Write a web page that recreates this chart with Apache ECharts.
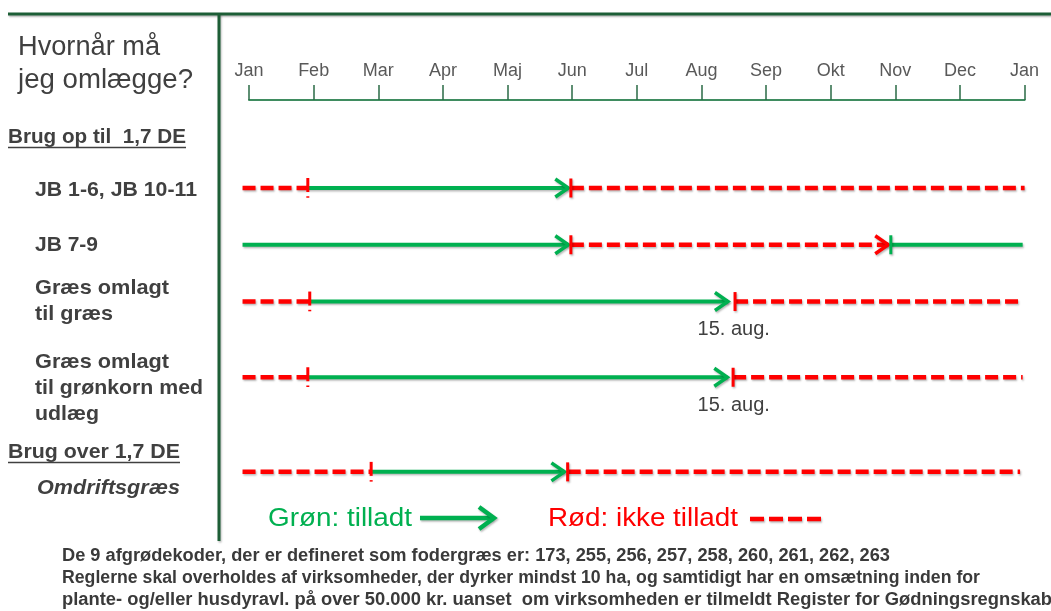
<!DOCTYPE html>
<html><head><meta charset="utf-8">
<script src="https://cdn.jsdelivr.net/npm/echarts@6/dist/echarts.min.js"></script>
<style>html,body{margin:0;padding:0;background:#fff}#c{width:1051px;height:611px}</style>
</head><body><div id="c"></div>
<script>
// ---------- DATA ----------
const months = ['Jan','Feb','Mar','Apr','Maj','Jun','Jul','Aug','Sep','Okt','Nov','Dec','Jan'];
const rowNames = ['JB 1-6, JB 10-11', 'JB 7-9', 'Græs omlagt til græs', 'Græs omlagt til grønkorn med udlæg', 'Omdriftsgræs'];
// segments (month units, 0 = 1 Jan, 12 = 31 Dec)
const segRow     = [0, 0, 0,    1, 1, 1,     2, 2, 2,     3, 3, 3,     4, 4, 4];
const segFrom    = [-0.1, 0.91, 4.98,  -0.1, 4.98, 9.93,  -0.1, 0.94, 7.52,  -0.1, 0.91, 7.49,  -0.1, 1.89, 4.93];
const segTo      = [0.91, 4.94, 12.0,  4.94, 9.89, 11.97,  0.94, 7.41, 11.97,  0.91, 7.40, 11.97,  1.89, 4.88, 11.93];
const segAllowed = [0, 1, 0,    1, 0, 1,     0, 1, 0,     0, 1, 0,     0, 1, 0];
const noteText = ['15. aug.', '15. aug.'];
const noteRow  = [2, 3];
const noteAt   = [7.5, 7.5];
const legendText = ['Grøn: tilladt', 'Rød: ikke tilladt'];
const footText = [
  'De 9 afgrødekoder, der er defineret som fodergræs er: 173, 255, 256, 257, 258, 260, 261, 262, 263',
  'Reglerne skal overholdes af virksomheder, der dyrker mindst 10 ha, og samtidigt har en omsætning inden for',
  'plante- og/eller husdyravl. på over 50.000 kr. uanset  om virksomheden er tilmeldt Register for Gødningsregnskab'
];

// ---------- LAYOUT / STYLE ----------
const GREEN = '#00b050', RED = '#ff0000', FRAME = '#1d5e36', TXT = '#404040';
const FF = '"Liberation Sans", Arial, sans-serif';
const rowSlot = [0, 3, 6, 10, 15];

const data = segFrom.map((f, i) => {
  const r = segRow[i];
  const first = i === 0 || segRow[i - 1] !== r;
  const last = i === segRow.length - 1 || segRow[i + 1] !== r;
  const ok = segAllowed[i];
  const arrow = !last && (ok === 1 || !first) ? 1 : 0;
  let tick = 0;
  if (!first) {
    const prevFirst = (i - 1 === 0 || segRow[i - 2] !== r);
    const prevArrow = segAllowed[i - 1] === 1 || !prevFirst;
    tick = prevArrow ? 1 : 2;
  }
  return [f, segTo[i], rowSlot[r], i, ok, arrow, tick];
});

const shadow = {shadowColor: 'rgba(0,0,0,0.28)', shadowBlur: 2, shadowOffsetX: 1, shadowOffsetY: 1.5};

const measureCtx = document.createElement('canvas').getContext('2d');
function txt(x, y, s, font, color, w) {
  measureCtx.font = font;
  const m = measureCtx.measureText(s).width;
  const sx = w ? w / m : 1;
  return {type: 'text', x: x, y: y, scaleX: sx, originX: 0, z: 10,
    style: {text: s, font: font, fill: color, align: 'left', verticalAlign: 'middle'}};
}

const rowFont = 'bold 21px ' + FF;
const graphics = [
  // frame
  {type: 'line', z: 5, shape: {x1: 8, y1: 14, x2: 1051, y2: 14}, style: Object.assign({stroke: FRAME, lineWidth: 3}, shadow)},
  {type: 'line', z: 5, shape: {x1: 219, y1: 14, x2: 219, y2: 541}, style: Object.assign({stroke: FRAME, lineWidth: 3}, shadow)},
  // title
  txt(18, 48, 'Hvornår må', '27px ' + FF, TXT, 142),
  txt(18, 81, 'jeg omlægge?', '27px ' + FF, TXT, 175),
  // group headers
  txt(8, 137, 'Brug op til  1,7 DE', rowFont, TXT, 178),
  {type: 'line', z: 5, shape: {x1: 8, y1: 147.5, x2: 186, y2: 147.5}, style: {stroke: TXT, lineWidth: 1.6}},
  txt(8, 452, 'Brug over 1,7 DE', rowFont, TXT, 172),
  {type: 'line', z: 5, shape: {x1: 8, y1: 462.5, x2: 180, y2: 462.5}, style: {stroke: TXT, lineWidth: 1.6}},
  // row labels
  txt(35, 190, rowNames[0], rowFont, TXT, 162),
  txt(35, 245, rowNames[1], rowFont, TXT),
  txt(35, 288, 'Græs omlagt', rowFont, TXT, 134),
  txt(35, 314, 'til græs', rowFont, TXT, 78),
  txt(35, 362, 'Græs omlagt', rowFont, TXT, 134),
  txt(35, 388, 'til grønkorn med', rowFont, TXT, 168),
  txt(35, 414, 'udlæg', rowFont, TXT, 64),
  txt(37, 488, rowNames[4], 'italic bold 21px ' + FF, TXT, 143),
  // legend
  txt(268, 519, legendText[0], '26px ' + FF, GREEN, 144),
  {type: 'line', z: 5, shape: {x1: 420, y1: 518, x2: 493, y2: 518}, style: Object.assign({stroke: GREEN, lineWidth: 4.5}, shadow)},
  {type: 'polyline', z: 5, shape: {points: [[479, 507], [494, 518], [479, 529]]}, style: Object.assign({stroke: GREEN, lineWidth: 4.5, fill: null}, shadow)},
  txt(548, 519, legendText[1], '26px ' + FF, RED, 190),
  {type: 'line', z: 5, shape: {x1: 750, y1: 519, x2: 826, y2: 519}, style: Object.assign({stroke: RED, lineWidth: 4.5, lineDash: [14, 5]}, shadow)},
  // footnote
  txt(62, 556, footText[0], 'bold 17.5px ' + FF, '#3a3a3a', 828),
  txt(62, 578, footText[1], 'bold 17.5px ' + FF, '#3a3a3a', 918),
  txt(62, 600, footText[2], 'bold 17.5px ' + FF, '#3a3a3a', 990)
];

const chart = echarts.init(document.getElementById('c'), null, {renderer: 'canvas'});
chart.setOption({
  backgroundColor: '#fff',
  animation: false,
  grid: {left: 249, right: 26.4, top: 100, height: 440},
  xAxis: {
    type: 'value', position: 'top', min: 0, max: 12, interval: 1,
    axisLine: {show: true, onZero: false, lineStyle: {color: '#3f8c60', width: 2}},
    axisTick: {show: true, length: 15, lineStyle: {color: '#2a6b45', width: 1.5}},
    axisLabel: {formatter: v => months[v], color: '#595959', fontSize: 18, fontFamily: FF, margin: 20, hideOverlap: false},
    splitLine: {show: false}
  },
  yAxis: {type: 'value', inverse: true, min: -4.65, max: 18.6, show: false},
  series: [
    {
      type: 'custom', clip: false, z: 3,
      data: data,
      renderItem: function (params, api) {
        const p1 = api.coord([api.value(0), api.value(2)]);
        const p2 = api.coord([api.value(1), api.value(2)]);
        const ok = api.value(4) === 1;
        const arrow = api.value(5) === 1;
        const tick = api.value(6);
        const col = ok ? GREEN : RED;
        const y = p1[1];
        const ch = [];
        ch.push({type: 'line', shape: {x1: p1[0], y1: y, x2: p2[0], y2: y},
          style: Object.assign({stroke: col, lineWidth: ok ? 4 : 4.5, lineDash: ok ? null : [13, 5]}, shadow)});
        if (arrow) {
          ch.push({type: 'polyline', shape: {points: [[p2[0] - 13, y - 9], [p2[0], y], [p2[0] - 13, y + 9]]},
            style: Object.assign({stroke: col, lineWidth: 3.5, fill: null}, shadow)});
        }
        if (tick === 1) {
          ch.push({type: 'line', shape: {x1: p1[0], y1: y - 9.5, x2: p1[0], y2: y + 9.5},
            style: Object.assign({stroke: col, lineWidth: 3}, shadow)});
        } else if (tick === 2) {
          ch.push({type: 'line', shape: {x1: p1[0], y1: y - 10, x2: p1[0], y2: y + 4},
            style: {stroke: RED, lineWidth: 3}});
          ch.push({type: 'line', shape: {x1: p1[0] - 1.5, y1: y + 9, x2: p1[0] + 1.5, y2: y + 9},
            style: {stroke: RED, lineWidth: 1.5}});
        }
        return {type: 'group', children: ch};
      }
    },
    {
      type: 'custom', clip: false, z: 4,
      data: noteAt.map((v, i) => [v, rowSlot[noteRow[i]], i]),
      renderItem: function (params, api) {
        const p = api.coord([api.value(0), api.value(1)]);
        return {type: 'text', x: p[0], y: p[1] + 28,
          style: {text: noteText[api.value(2)], font: '20px ' + FF, fill: TXT, align: 'center', verticalAlign: 'middle'}};
      }
    }
  ],
  graphic: graphics
});
</script>
</body></html>
